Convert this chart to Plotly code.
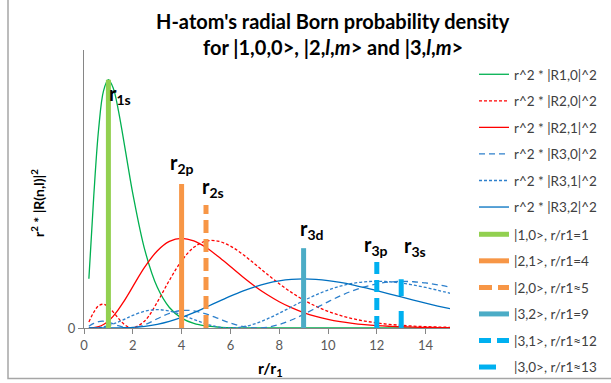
import plotly.graph_objects as go

# ---- data (r in units of r1) ----
r = [0.2, 0.4, 0.6, 0.8, 1.0, 1.2, 1.4, 1.6, 1.8, 2.0,
     2.5, 3.0, 3.5, 4.0, 4.5, 5.0, 5.5, 6.0, 6.5, 7.0, 7.5,
     8.0, 8.5, 9.0, 9.5, 10.0, 10.5, 11.0, 11.5, 12.0, 12.5, 13.0, 13.5, 14.0, 14.5, 15.0]

p10 = [0.1073, 0.2876, 0.4337, 0.5169, 0.5413, 0.5225, 0.4768, 0.4174, 0.3541, 0.2931,
       0.1685, 0.0892, 0.0447, 0.0215, 0.0100, 0.0045, 0.0020, 0.0009, 0.0004, 0.0002, 0.0001,
       0, 0, 0, 0, 0, 0, 0, 0, 0, 0, 0, 0, 0, 0, 0]
p20 = [0.0133, 0.0343, 0.0484, 0.0518, 0.0460, 0.0347, 0.0218, 0.0103, 0.0027, 0.0000,
       0.0160, 0.0560, 0.1040, 0.1465, 0.1758, 0.1895, 0.1893, 0.1785, 0.1608, 0.1396, 0.1176,
       0.0966, 0.0776, 0.0612, 0.0475, 0.0363, 0.0274, 0.0205, 0.0151, 0.0111, 0.0080, 0.0058,
       0.0041, 0.0029, 0.0021, 0.0015]
p21 = [0.0001, 0.0007, 0.0030, 0.0077, 0.0153, 0.0260, 0.0395, 0.0551, 0.0723, 0.0902,
       0.1336, 0.1680, 0.1888, 0.1954, 0.1898, 0.1755, 0.1558, 0.1339, 0.1118, 0.0912, 0.0729,
       0.0573, 0.0443, 0.0337, 0.0254, 0.0189, 0.0139, 0.0102, 0.0074, 0.0053, 0.0038, 0.0027,
       0.0019, 0.0013, 0.0009, 0.0006]
p30 = [0.0039, 0.0101, 0.0140, 0.0147, 0.0126, 0.0090, 0.0051, 0.0020, 0.0002, 0.0002,
       0.0073, 0.0201, 0.0319, 0.0382, 0.0373, 0.0306, 0.0208, 0.0109, 0.0034, 0.0001, 0.0016,
       0.0076, 0.0174, 0.0297, 0.0434, 0.0571, 0.0699, 0.0810, 0.0898, 0.0962, 0.1001, 0.1015,
       0.1008, 0.0982, 0.0942, 0.0890]
p31 = [0.0000, 0.0002, 0.0010, 0.0026, 0.0052, 0.0087, 0.0130, 0.0177, 0.0227, 0.0274,
       0.0367, 0.0401, 0.0370, 0.0289, 0.0187, 0.0091, 0.0024, 0.0000, 0.0024, 0.0092, 0.0195,
       0.0322, 0.0459, 0.0595, 0.0720, 0.0828, 0.0912, 0.0972, 0.1007, 0.1018, 0.1008, 0.0980,
       0.0937, 0.0884, 0.0822, 0.0757]
p32 = [0.0000, 0.0000, 0.0000, 0.0000, 0.0000, 0.0001, 0.0002, 0.0005, 0.0008, 0.0014,
       0.0037, 0.0080, 0.0145, 0.0231, 0.0336, 0.0453, 0.0575, 0.0695, 0.0805, 0.0899, 0.0975,
       0.1029, 0.1061, 0.1071, 0.1061, 0.1035, 0.0993, 0.0941, 0.0880, 0.0814, 0.0745, 0.0676,
       0.0607, 0.0541, 0.0479, 0.0420]

curve_names = ["r^2 * |R1,0|^2", "r^2 * |R2,0|^2", "r^2 * |R2,1|^2",
               "r^2 * |R3,0|^2", "r^2 * |R3,1|^2", "r^2 * |R3,2|^2"]

marker_r = [1, 4, 5, 9, 12, 13]
marker_top = [0.541, 0.314, 0.268, 0.174, 0.144, 0.106]
marker_names = ["|1,0>, r/r1=1", "|2,1>, r/r1=4", "|2,0>, r/r1≈5",
                "|3,2>, r/r1=9", "|3,1>, r/r1≈12", "|3,0>, r/r1≈13"]
marker_labels = ["r<sub>1s</sub>", "r<sub>2p</sub>", "r<sub>2s</sub>",
                 "r<sub>3d</sub>", "r<sub>3p</sub>", "r<sub>3s</sub>"]

x_ticks = [0, 2, 4, 6, 8, 10, 12, 14]

title_lines = ["H-atom's radial Born probability density",
               "for |1,0,0>, |2,<i>l</i>,<i>m</i>> and |3,<i>l</i>,<i>m</i>>"]

# ---- styles ----
FONT = "Lato"
curve_styles = [
    dict(color="#00B050", dash="solid"),
    dict(color="#FF0000", dash="3px,2px"),
    dict(color="#FF0000", dash="solid"),
    dict(color="#2E80CC", dash="6px,4px"),
    dict(color="#2E80CC", dash="3px,2px"),
    dict(color="#0070C0", dash="solid"),
]
marker_styles = [
    dict(color="#92D050", dash="solid"),
    dict(color="#F79646", dash="solid"),
    dict(color="#F79646", dash="13px,6px"),
    dict(color="#4BACC6", dash="solid"),
    dict(color="#00B0F0", dash="12px,6px"),
    dict(color="#00B0F0", dash="17px,15px"),
]
label_shift = [  # (xanchor, xshift, yshift)
    ("left", -1, -15),
    ("center", 0, 20),
    ("center", 7, 18),
    ("center", 8, 19),
    ("center", -1, 16),
    ("center", 14, 33),
]

W, H = 611, 383
L, R, T, B = 84, 161, 50, 55
PW, PH = W - L - R, H - T - B


def px_x(p):
    return (p - L) / PW


def px_y(p):
    return (H - B - p) / PH


fig = go.Figure()

for i, (name, ys) in enumerate(zip(curve_names, [p10, p20, p21, p30, p31, p32])):
    st = curve_styles[i]
    fig.add_trace(go.Scatter(
        x=r, y=ys, mode="lines", name=name, legendgroup=f"g{i}", legend="legend",
        line=dict(color=st["color"], dash=st["dash"], width=1.3, shape="spline"),
    ))

for i, (xv, top, name) in enumerate(zip(marker_r, marker_top, marker_names)):
    st = marker_styles[i]
    fig.add_trace(go.Scatter(
        x=[xv, xv], y=[0, top], mode="lines", name=name, legendgroup=f"m{i}", legend="legend2",
        line=dict(color=st["color"], dash=st["dash"], width=5),
    ))

annotations = []
for i, (xv, top, lab) in enumerate(zip(marker_r, marker_top, marker_labels)):
    xa, xs, ys = label_shift[i]
    annotations.append(dict(
        x=xv, y=top, xref="x", yref="y", text=f"<b>{lab}</b>", showarrow=False,
        xanchor=xa, yanchor="middle", xshift=xs, yshift=ys,
        font=dict(family=FONT, size=20, color="#000000"),
    ))

# title (two centred lines)
for txt, yc in zip(title_lines, [21, 47]):
    annotations.append(dict(
        x=px_x(333), y=px_y(yc), xref="paper", yref="paper",
        text=f"<b>{txt}</b>", showarrow=False, xanchor="center", yanchor="middle",
        font=dict(family=FONT, size=20, color="#000000"),
    ))

# axis titles
annotations.append(dict(
    x=px_x(37), y=px_y(203), xref="paper", yref="paper",
    text="<b>r<sup>2</sup> * |R(n,l)|<sup>2</sup></b>", textangle=-90, showarrow=False,
    xanchor="center", yanchor="middle", font=dict(family=FONT, size=14, color="#000000"),
))
annotations.append(dict(
    x=px_x(270), y=px_y(368), xref="paper", yref="paper",
    text="<b>r/r<sub>1</sub></b>", showarrow=False,
    xanchor="center", yanchor="middle", font=dict(family=FONT, size=16, color="#000000"),
))

legend_common = dict(
    xanchor="left", yanchor="top", traceorder="grouped", tracegroupgap=6,
    bgcolor="rgba(0,0,0,0)", font=dict(family=FONT, size=13.5, color="#404040"),
)

fig.update_layout(
    width=W, height=H,
    margin=dict(l=L, r=R, t=T, b=B, autoexpand=False),
    paper_bgcolor="white", plot_bgcolor="white",
    font=dict(family=FONT, size=12, color="#404040"),
    xaxis=dict(
        range=[0, 15], tickvals=x_ticks, showgrid=False, zeroline=False,
        showline=True, linecolor="#868686", linewidth=1,
        ticks="outside", ticklen=5, tickcolor="#868686",
        tickfont=dict(family=FONT, size=13, color="#595959"),
    ),
    yaxis=dict(
        range=[0, 0.606], tickvals=[0], ticktext=["0"], showgrid=False, zeroline=False,
        showline=True, linecolor="#868686", linewidth=1,
        ticks="outside", ticklen=5, tickcolor="#868686",
        tickfont=dict(family=FONT, size=13, color="#595959"),
    ),
    legend=dict(x=px_x(474), y=px_y(59), **legend_common),
    legend2=dict(x=px_x(474), y=px_y(219), **legend_common),
    annotations=annotations,
    shapes=[dict(
        type="rect", xref="paper", yref="paper",
        x0=px_x(8), x1=px_x(700), y0=px_y(378.5), y1=px_y(-20),
        line=dict(color="#A6A6A6", width=1.5), fillcolor="rgba(0,0,0,0)", layer="below",
    )],
    showlegend=True,
)

fig.write_html("out.html")
